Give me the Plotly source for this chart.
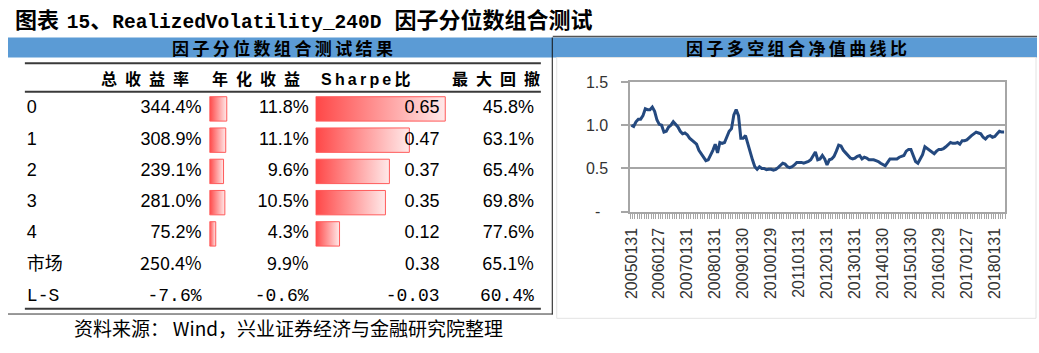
import plotly.graph_objects as go

W, H = 1039, 353

# ---------------- data ----------------
row_labels = ["0", "1", "2", "3", "4", "市场", "L-S"]
total_return = [344.4, 308.9, 239.1, 281.0, 75.2, 250.4, -7.6]
annual_return = [11.8, 11.1, 9.6, 10.5, 4.3, 9.9, -0.6]
sharpe = [0.65, 0.47, 0.37, 0.35, 0.12, 0.38, -0.03]
max_drawdown = [45.8, 63.1, 65.4, 69.8, 77.6, 65.1, 60.4]
n_bar_rows = 5  # quantile rows 0-4 carry data bars

col_headers = ["总收益率", "年化收益", "Sharpe比", "最大回撤"]

tick_labels = ["20050131", "20060127", "20070131", "20080131", "20090130",
               "20100129", "20110131", "20120131", "20130131", "20140130",
               "20150130", "20160129", "20170127", "20180131"]

nav = [1.00, 0.985, 1.04, 1.07, 1.07, 1.11, 1.19, 1.18, 1.18, 1.21,
       1.16, 1.06, 1.01, 1.00, 0.92, 0.93, 0.98, 1.00, 1.04, 1.01,
       0.98, 0.93, 0.90, 0.91, 0.89, 0.85, 0.83, 0.81, 0.78, 0.71,
       0.67, 0.625, 0.59, 0.60, 0.65, 0.71, 0.78, 0.68, 0.80, 0.79,
       0.80, 0.87, 0.93, 0.96, 1.12, 1.18, 1.11, 0.85, 0.85, 0.88,
       0.78, 0.71, 0.60, 0.52, 0.49, 0.52, 0.50, 0.50, 0.485, 0.49,
       0.49, 0.48, 0.49, 0.51, 0.54, 0.56, 0.55, 0.52, 0.51, 0.52,
       0.54, 0.57, 0.57, 0.57, 0.56, 0.57, 0.58, 0.60, 0.64, 0.69,
       0.60, 0.61, 0.65, 0.61, 0.54, 0.60, 0.61, 0.64, 0.70, 0.77,
       0.76, 0.71, 0.68, 0.65, 0.62, 0.61, 0.62, 0.64, 0.65, 0.61,
       0.63, 0.62, 0.60, 0.60, 0.60, 0.59, 0.58, 0.56, 0.54, 0.53,
       0.57, 0.61, 0.61, 0.61, 0.61, 0.63, 0.64, 0.65, 0.70, 0.72,
       0.72, 0.66, 0.58, 0.56, 0.61, 0.66, 0.75, 0.73, 0.71, 0.70,
       0.67, 0.70, 0.72, 0.72, 0.73, 0.75, 0.77, 0.80, 0.79, 0.79,
       0.80, 0.78, 0.82, 0.82, 0.83, 0.86, 0.88, 0.90, 0.92, 0.91,
       0.90, 0.86, 0.84, 0.87, 0.88, 0.86, 0.87, 0.90, 0.93, 0.92,
       0.92]

# ---------------- helpers (pixel -> paper) ----------------
def px(x):
    return x / W


def py(y):
    return 1 - y / H


BLUE = "#5B9BD5"
LINE_DARK = "#3A3A3A"
GRID = "#A6A6A6"
NUM_FONT = "Liberation Sans"
CJK = "Noto Sans CJK SC"
MONO = "Liberation Mono"

fig = go.Figure()

# ---------------- table bars (gradient data bars) ----------------
half = 0.39
grad = [[0, "#FF4747"], [1, "#FFE9E9"]]
for i in range(n_bar_rows):
    v = annual_return[i]
    fig.add_trace(go.Scatter(
        x=[0, v, v, 0, 0], y=[i - half, i - half, i + half, i + half, i - half],
        xaxis="x3", yaxis="y2", mode="lines", fill="toself",
        fillgradient=dict(type="horizontal", colorscale=grad),
        line=dict(color="#FF5A5A", width=1), hoverinfo="skip", showlegend=False))
    s = sharpe[i]
    fig.add_trace(go.Scatter(
        x=[0, s, s, 0, 0], y=[i - half, i - half, i + half, i + half, i - half],
        xaxis="x4", yaxis="y2", mode="lines", fill="toself",
        fillgradient=dict(type="horizontal", colorscale=grad),
        line=dict(color="#FF5A5A", width=1), hoverinfo="skip", showlegend=False))

# ---------------- table text (on x5, drawn after the bar subplots) ----------------
rows = list(range(len(row_labels)))
fam = [MONO if lab == "L-S" else (CJK if lab == "市场" else NUM_FONT) for lab in row_labels]
colr = ["#000000"] * len(row_labels)


def text_col(xpos, texts, pos):
    fig.add_trace(go.Scatter(
        x=[xpos] * len(texts), y=rows, text=texts, mode="text",
        textposition=pos, xaxis="x5", yaxis="y2",
        textfont=dict(family=fam, size=18, color=colr),
        hoverinfo="skip", showlegend=False))


text_col(19, row_labels, "middle right")
text_col(195, [f"{v:.1f}%" for v in total_return], "middle left")
text_col(303, [f"{v:.1f}%" for v in annual_return], "middle left")
text_col(435, [f"{v:.2f}" for v in sharpe], "middle left")
text_col(530, [f"{v:.1f}%" for v in max_drawdown], "middle left")

# ---------------- line chart ----------------
fig.add_trace(go.Scatter(
    x=list(range(len(nav))), y=nav, mode="lines",
    line=dict(color="#24497F", width=3), xaxis="x", yaxis="y",
    hoverinfo="skip", showlegend=False))

shapes = []
# header blue band
shapes.append(dict(type="rect", xref="paper", yref="paper", x0=px(0), x1=px(1037),
                   y0=py(52), y1=py(31), fillcolor=BLUE, line=dict(width=0), layer="below"))
# dark line above right header
shapes.append(dict(type="line", xref="paper", yref="paper", x0=px(549), x1=px(1037),
                   y0=py(30), y1=py(30), line=dict(color="#555555", width=1.5)))
# right panel light frame
shapes.append(dict(type="rect", xref="paper", yref="paper", x0=px(553), x1=px(1036),
                   y0=py(326), y1=py(52), line=dict(color="#E3E3E3", width=1), layer="below"))
# table vertical separator
shapes.append(dict(type="line", xref="paper", yref="paper", x0=px(548.5), x1=px(548.5),
                   y0=py(322), y1=py(31), line=dict(color="#111111", width=1)))
# table horizontal lines
for yy in (58, 88, 316):
    shapes.append(dict(type="line", xref="paper", yref="paper", x0=px(17), x1=px(537),
                       y0=py(yy), y1=py(yy), line=dict(color=LINE_DARK, width=2)))
shapes.append(dict(type="line", xref="paper", yref="paper", x0=px(0), x1=px(549),
                   y0=py(321.5), y1=py(321.5), line=dict(color="#333333", width=1)))

title_html = ("图表<span style=\"font-size:13px\"> </span>"
              "<span style=\"font-size:19.5px\">15</span>、"
              "<span style=\"font-size:19.5px\">RealizedVolatility_240D</span> "
              "因子分位数组合测试")

annotations = []
annotations.append(dict(
    xref="paper", yref="paper", x=px(5), y=py(14), xanchor="left", yanchor="middle",
    text=title_html, showarrow=False,
    font=dict(family=f"{MONO}, {CJK}", size=22, color="#000000", weight="bold")))
annotations.append(dict(
    xref="paper", yref="paper", x=px(277), y=py(41.5), xanchor="center", yanchor="middle",
    text="\u2009".join("因子分位数组合测试结果"), showarrow=False,
    font=dict(family=CJK, size=17, color="#000000", weight="bold")))
annotations.append(dict(
    xref="paper", yref="paper", x=px(795), y=py(41.5), xanchor="center", yanchor="middle",
    text="\u2009".join("因子多空组合净值曲线比"), showarrow=False,
    font=dict(family=CJK, size=17, color="#000000", weight="bold")))
header_x = [138, 250, 360, 492]
for hx, htxt in zip(header_x, col_headers):
    sep = "\u2009" if htxt.startswith("Sharpe") else "\u2002"
    annotations.append(dict(
        xref="paper", yref="paper", x=px(hx), y=py(75), xanchor="center", yanchor="middle",
        text=sep.join(htxt), showarrow=False,
        font=dict(family=f"{NUM_FONT}, {CJK}", size=16, color="#000000", weight="bold")))
annotations.append(dict(
    xref="paper", yref="paper", x=px(283), y=py(336), xanchor="center", yanchor="middle",
    text="资料来源：\u2009Wind，兴业证券经济与金融研究院整理", showarrow=False,
    font=dict(family=CJK, size=19, color="#000000")))

fig.update_layout(
    width=W, height=H, autosize=False,
    margin=dict(l=0, r=0, t=0, b=0, pad=0),
    paper_bgcolor="white", plot_bgcolor="rgba(0,0,0,0)",
    showlegend=False,
    shapes=shapes, annotations=annotations,
    xaxis=dict(
        domain=[px(627), px(1005)], range=[-0.5, len(nav) - 0.5], anchor="y",
        showline=True, linecolor=GRID, linewidth=1.5, mirror=True,
        showgrid=False, zeroline=False,
        tickmode="array", tickvals=[12 * k for k in range(len(tick_labels))],
        ticktext=tick_labels, tickangle=-90, ticks="",
        ticklabelstandoff=8,
        tickfont=dict(family=NUM_FONT, size=16, color="#333333"),
        minor=dict(tickmode="linear", tick0=-0.5, dtick=1, ticks="outside",
                   ticklen=6, tickwidth=1, tickcolor=GRID, showgrid=False),
        fixedrange=True),
    yaxis=dict(
        domain=[py(214), py(77.7)], range=[0, 1.5], anchor="x",
        showline=True, linecolor=GRID, linewidth=1.5, mirror=True,
        showgrid=True, gridcolor=GRID, gridwidth=1.5, zeroline=False,
        tickmode="array", tickvals=[0, 0.5, 1.0, 1.5],
        ticktext=["-\u2002", "0.5", "1.0", "1.5"],
        ticks="outside", ticklen=7, tickwidth=1.5, tickcolor=GRID,
        ticklabelstandoff=10,
        tickfont=dict(family=NUM_FONT, size=16, color="#333333"),
        fixedrange=True),
    yaxis2=dict(domain=[py(319.4), py(89.6)], range=[6.5, -0.5], visible=False,
                anchor="x5", fixedrange=True),
    xaxis3=dict(domain=[px(203), px(203 + 29.6)], range=[0, 20], visible=False,
                anchor="y2", fixedrange=True),
    xaxis4=dict(domain=[px(310), px(511)], range=[0, 1], visible=False,
                anchor="y2", fixedrange=True),
    xaxis5=dict(domain=[0, 1], range=[0, W], visible=False, anchor="y2", fixedrange=True),
)

fig.write_html("out.html")
